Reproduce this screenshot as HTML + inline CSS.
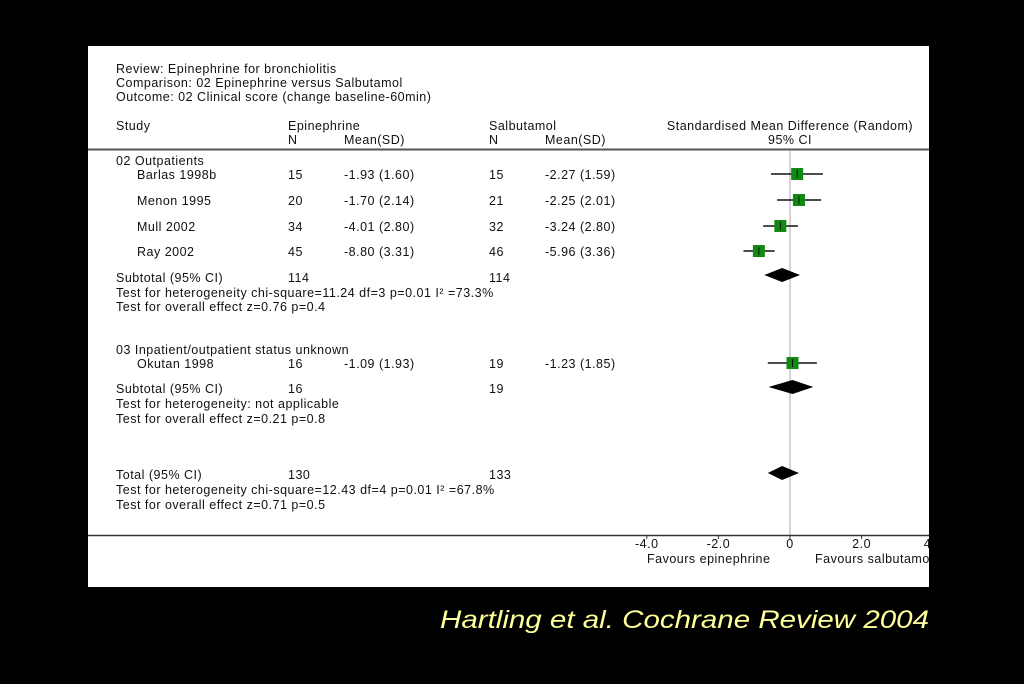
<!DOCTYPE html>
<html><head><meta charset="utf-8"><style>
body{margin:0;background:#000;width:1024px;height:679px;overflow:hidden}
svg text{font-family:"Liberation Sans",sans-serif;font-size:12.5px;letter-spacing:0.5px;fill:#111}
</style></head><body>
<svg width="1024" height="679" viewBox="0 0 1024 679">
<defs><clipPath id="panelclip"><rect x="88" y="46" width="841" height="541"/></clipPath></defs>
<rect x="0" y="0" width="1024" height="679" fill="#000"/>
<rect x="88" y="46" width="841" height="541" fill="#fff"/>
<g>
<text x="116" y="73">Review:  Epinephrine for bronchiolitis</text>
<text x="116" y="87">Comparison:  02 Epinephrine versus Salbutamol</text>
<text x="116" y="101">Outcome:  02 Clinical score (change baseline-60min)</text>
<text x="116" y="130">Study</text>
<text x="288" y="130">Epinephrine</text>
<text x="288" y="144">N</text>
<text x="344" y="144">Mean(SD)</text>
<text x="489" y="130">Salbutamol</text>
<text x="489" y="144">N</text>
<text x="545" y="144">Mean(SD)</text>
<text x="790" y="130" text-anchor="middle">Standardised Mean Difference (Random)</text>
<text x="790" y="144" text-anchor="middle">95% CI</text>
</g>
<line x1="88" y1="149.5" x2="929" y2="149.5" stroke="#555" stroke-width="2"/>
<g>
<text x="116" y="165">02 Outpatients</text>
<text x="137" y="179">Barlas 1998b</text><text x="288" y="179">15</text><text x="344" y="179">-1.93 (1.60)</text><text x="489" y="179">15</text><text x="545" y="179">-2.27 (1.59)</text>
<text x="137" y="205">Menon 1995</text><text x="288" y="205">20</text><text x="344" y="205">-1.70 (2.14)</text><text x="489" y="205">21</text><text x="545" y="205">-2.25 (2.01)</text>
<text x="137" y="231">Mull 2002</text><text x="288" y="231">34</text><text x="344" y="231">-4.01 (2.80)</text><text x="489" y="231">32</text><text x="545" y="231">-3.24 (2.80)</text>
<text x="137" y="256">Ray 2002</text><text x="288" y="256">45</text><text x="344" y="256">-8.80 (3.31)</text><text x="489" y="256">46</text><text x="545" y="256">-5.96 (3.36)</text>
<text x="116" y="282">Subtotal (95% CI)</text><text x="288" y="282">114</text><text x="489" y="282">114</text>
<text x="116" y="297">Test for heterogeneity chi-square=11.24 df=3 p=0.01 I² =73.3%</text>
<text x="116" y="311">Test for overall effect z=0.76  p=0.4</text>
<text x="116" y="354">03 Inpatient/outpatient status unknown</text>
<text x="137" y="368">Okutan 1998</text><text x="288" y="368">16</text><text x="344" y="368">-1.09 (1.93)</text><text x="489" y="368">19</text><text x="545" y="368">-1.23 (1.85)</text>
<text x="116" y="393">Subtotal (95% CI)</text><text x="288" y="393">16</text><text x="489" y="393">19</text>
<text x="116" y="408">Test for heterogeneity: not applicable</text>
<text x="116" y="423">Test for overall effect z=0.21  p=0.8</text>
<text x="116" y="479">Total (95% CI)</text><text x="288" y="479">130</text><text x="489" y="479">133</text>
<text x="116" y="494">Test for heterogeneity chi-square=12.43 df=4 p=0.01 I² =67.8%</text>
<text x="116" y="509">Test for overall effect z=0.71  p=0.5</text>
</g>
<g id="plot" clip-path="url(#panelclip)"></g>
<text x="440" y="628" textLength="489" lengthAdjust="spacingAndGlyphs" style="font-size:25px;letter-spacing:0;font-style:italic;fill:#ffff99">Hartling et al. Cochrane Review 2004</text>
</svg>
<script>
const studyNames=["Barlas 1998b","Menon 1995","Mull 2002","Ray 2002","Okutan 1998"];
const studyEst=[0.20,0.25,-0.27,-0.87,0.07];
const studyLo=[-0.53,-0.36,-0.75,-1.30,-0.62];
const studyHi=[0.92,0.87,0.22,-0.43,0.75];
const studyRowY=[174,200,226,251,363];
const poolNames=["subtotal-outpatients","subtotal-unknown","total"];
const poolEst=[-0.22,0.07,-0.22];
const poolLo=[-0.72,-0.60,-0.62];
const poolHi=[0.28,0.65,0.25];
const poolRowY=[275,387,473];
const tickVals=[-4,-2,0,2,4];
const tickLabels=["-4.0","-2.0","0","2.0","4.0"];
const NS="http://www.w3.org/2000/svg";
const g=document.getElementById('plot');
function xs(v){return 790+v*35.8;}
function mk(t,a,p){const e=document.createElementNS(NS,t);for(const k in a)e.setAttribute(k,a[k]);(p||g).appendChild(e);return e;}
const zl=mk('line',{x1:xs(0),x2:xs(0),y1:150,y2:535,stroke:'#aaa','stroke-width':1});


const ax=mk('line',{x1:88,x2:929,y1:535.5,y2:535.5,stroke:'#333','stroke-width':1.5});


tickVals.forEach((v,i)=>{
 const tk=mk('line',{x1:xs(v),x2:xs(v),y1:535,y2:539,stroke:'#333'});
 
 
 const t=mk('text',{x:xs(v),y:548,'text-anchor':'middle'});
 t.textContent=tickLabels[i];
 
 
});
const f1=mk('text',{x:647,y:563});f1.textContent="Favours epinephrine";


const f2=mk('text',{x:815,y:563});f2.textContent="Favours salbutamol";


studyNames.forEach((n,i)=>{
 const y=studyRowY[i];
 const ci=mk('line',{x1:xs(studyLo[i]),x2:xs(studyHi[i]),y1:y,y2:y,stroke:'#111','stroke-width':1.5});
 
 
 const sq=mk('rect',{x:xs(studyEst[i])-6,y:y-6,width:12,height:12,fill:'#118a11'});
 
 
 mk('line',{x1:xs(studyEst[i]),x2:xs(studyEst[i]),y1:y-4,y2:y+4,stroke:'#111'});
});
poolNames.forEach((n,i)=>{
 const y=poolRowY[i];
 const d=mk('polygon',{points:`${xs(poolLo[i])},${y} ${xs(poolEst[i])},${y-7} ${xs(poolHi[i])},${y} ${xs(poolEst[i])},${y+7}`,fill:'#000'});
 
 
});
</script>
</body></html>
